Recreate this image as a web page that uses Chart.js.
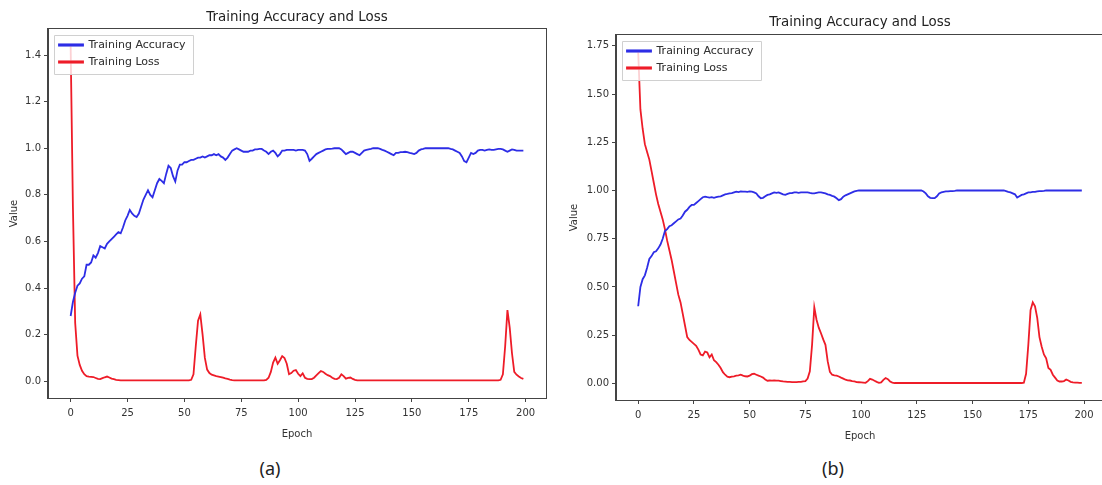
<!DOCTYPE html>
<html>
<head>
<meta charset="utf-8">
<script src="https://cdn.jsdelivr.net/npm/chart.js@4.4.1/dist/chart.umd.min.js"></script>
<style>
  html, body { margin: 0; padding: 0; background: #fff; overflow: hidden; width: 1102px; height: 485px; }
  canvas { position: absolute; top: 0; }
  #chart-a { left: 0; }
  #chart-b { left: 560px; }
  .caption { position: absolute; top: 456px; width: 60px; text-align: center; font-family: 'Noto Sans', sans-serif; font-size: 18px; color: #222; }
</style>
</head>
<body>
<canvas id="chart-a" width="594" height="440"></canvas>
<canvas id="chart-b" width="600" height="442"></canvas>
<div class="caption" style="left: 240px;">(a)</div>
<div class="caption" style="left: 803px;">(b)</div>
<script>
  // values (epochs 0..199)
  const accA = [
    0.28, 0.34, 0.38, 0.41, 0.42, 0.44, 0.45, 0.50, 0.50, 0.51,
    0.54, 0.53, 0.55, 0.58, 0.575, 0.57, 0.59, 0.60, 0.61, 0.62,
    0.63, 0.64, 0.635, 0.66, 0.69, 0.71, 0.735, 0.72, 0.71, 0.705,
    0.72, 0.75, 0.78, 0.80, 0.82, 0.80, 0.79, 0.82, 0.85, 0.868,
    0.86, 0.85, 0.89, 0.925, 0.915, 0.88, 0.857, 0.905, 0.93, 0.93,
    0.94, 0.94, 0.945, 0.95, 0.95, 0.955, 0.96, 0.96, 0.965, 0.96,
    0.965, 0.97, 0.97, 0.975, 0.97, 0.975, 0.965, 0.96, 0.95, 0.96,
    0.975, 0.99, 0.995, 1.0, 0.995, 0.99, 0.985, 0.985, 0.985, 0.99,
    0.99, 0.995, 0.995, 0.997, 0.997, 0.99, 0.985, 0.975, 0.985, 0.99,
    0.98, 0.965, 0.975, 0.99, 0.99, 0.993, 0.993, 0.993, 0.993, 0.99,
    0.993, 0.993, 0.993, 0.99, 0.975, 0.946, 0.955, 0.965, 0.975, 0.98,
    0.985, 0.99, 0.995, 0.997, 0.997, 0.998, 1.0, 1.0, 1.0, 0.995,
    0.985, 0.975, 0.98, 0.985, 0.985, 0.98, 0.975, 0.97, 0.98, 0.99,
    0.993, 0.995, 0.997, 1.0, 1.0, 1.0, 0.997, 0.993, 0.99, 0.985,
    0.98, 0.975, 0.97, 0.98, 0.98, 0.983, 0.983, 0.985, 0.983, 0.98,
    0.978, 0.975, 0.98, 0.99, 0.995, 0.997, 1.0, 1.0, 1.0, 1.0,
    1.0, 1.0, 1.0, 1.0, 1.0, 1.0, 1.0, 0.997, 0.995, 0.99,
    0.985, 0.98, 0.965, 0.945, 0.94, 0.96, 0.98, 0.975, 0.98, 0.99,
    0.993, 0.993, 0.99, 0.993, 0.995, 0.993, 0.993, 0.995, 0.997, 0.997,
    0.995, 0.99, 0.985, 0.99, 0.995, 0.993, 0.99, 0.99, 0.99, 0.99
  ];
  const lossA = [
    1.44, 0.75, 0.25, 0.11, 0.07, 0.045, 0.03, 0.022, 0.02, 0.019,
    0.018, 0.014, 0.01, 0.009, 0.013, 0.017, 0.02, 0.016, 0.011, 0.009,
    0.006, 0.005, 0.004, 0.004, 0.004, 0.004, 0.004, 0.004, 0.004, 0.004,
    0.004, 0.004, 0.004, 0.004, 0.004, 0.004, 0.004, 0.004, 0.004, 0.004,
    0.004, 0.004, 0.004, 0.004, 0.004, 0.004, 0.004, 0.004, 0.004, 0.004,
    0.004, 0.004, 0.004, 0.006, 0.03, 0.15, 0.26, 0.287, 0.2, 0.1,
    0.05, 0.035, 0.028, 0.025, 0.022, 0.02, 0.018, 0.015, 0.012, 0.01,
    0.007, 0.005, 0.004, 0.004, 0.004, 0.004, 0.004, 0.004, 0.004, 0.004,
    0.004, 0.004, 0.004, 0.004, 0.004, 0.004, 0.006, 0.015, 0.04, 0.08,
    0.101, 0.075, 0.09, 0.108, 0.1, 0.075, 0.03, 0.035, 0.045, 0.048,
    0.032, 0.022, 0.034, 0.015, 0.01, 0.009, 0.009, 0.015, 0.025, 0.035,
    0.044, 0.04, 0.032, 0.026, 0.022, 0.015, 0.01, 0.009, 0.015, 0.03,
    0.022, 0.011, 0.014, 0.016, 0.01, 0.006, 0.004, 0.004, 0.004, 0.004,
    0.004, 0.004, 0.004, 0.004, 0.004, 0.004, 0.004, 0.004, 0.004, 0.004,
    0.004, 0.004, 0.004, 0.004, 0.004, 0.004, 0.004, 0.004, 0.004, 0.004,
    0.004, 0.004, 0.004, 0.004, 0.004, 0.004, 0.004, 0.004, 0.004, 0.004,
    0.004, 0.004, 0.004, 0.004, 0.004, 0.004, 0.004, 0.004, 0.004, 0.004,
    0.004, 0.004, 0.004, 0.004, 0.004, 0.004, 0.004, 0.004, 0.004, 0.004,
    0.004, 0.004, 0.004, 0.004, 0.004, 0.004, 0.004, 0.004, 0.004, 0.006,
    0.03, 0.15, 0.305, 0.23, 0.12, 0.04, 0.028, 0.02, 0.014, 0.01
  ];
  const accB = [
    0.40, 0.50, 0.54, 0.56, 0.60, 0.645, 0.66, 0.68, 0.685, 0.70,
    0.72, 0.75, 0.79, 0.80, 0.815, 0.82, 0.83, 0.84, 0.85, 0.855,
    0.87, 0.89, 0.90, 0.915, 0.925, 0.925, 0.935, 0.945, 0.955, 0.965,
    0.968, 0.965, 0.963, 0.965, 0.962, 0.965, 0.968, 0.97, 0.975, 0.98,
    0.982, 0.985, 0.986, 0.99, 0.994, 0.992, 0.995, 0.994, 0.994, 0.993,
    0.995, 0.994, 0.99, 0.985, 0.97, 0.96, 0.962, 0.97, 0.977, 0.98,
    0.985, 0.99, 0.988, 0.99, 0.985, 0.98, 0.977, 0.982, 0.986, 0.986,
    0.99, 0.99, 0.988, 0.99, 0.99, 0.99, 0.99, 0.987, 0.985, 0.985,
    0.988, 0.99, 0.99, 0.988, 0.985, 0.98, 0.977, 0.972, 0.968, 0.96,
    0.95, 0.955, 0.968, 0.975, 0.98, 0.985, 0.99, 0.995, 0.998, 1.0,
    1.0, 1.0, 1.0, 1.0, 1.0, 1.0, 1.0, 1.0, 1.0, 1.0,
    1.0, 1.0, 1.0, 1.0, 1.0, 1.0, 1.0, 1.0, 1.0, 1.0,
    1.0, 1.0, 1.0, 1.0, 1.0, 1.0, 1.0, 1.0, 0.995, 0.985,
    0.97, 0.962, 0.96, 0.96, 0.97, 0.985, 0.99, 0.993, 0.995, 0.995,
    0.997, 0.997, 0.998, 1.0, 1.0, 1.0, 1.0, 1.0, 1.0, 1.0,
    1.0, 1.0, 1.0, 1.0, 1.0, 1.0, 1.0, 1.0, 1.0, 1.0,
    1.0, 1.0, 1.0, 1.0, 1.0, 0.997, 0.993, 0.99, 0.985, 0.98,
    0.963, 0.97, 0.977, 0.98, 0.985, 0.99, 0.99, 0.993, 0.993, 0.995,
    0.997, 0.997, 0.998, 1.0, 1.0, 1.0, 1.0, 1.0, 1.0, 1.0,
    1.0, 1.0, 1.0, 1.0, 1.0, 1.0, 1.0, 1.0, 1.0, 1.0
  ];
  const lossB = [
    1.72, 1.42, 1.32, 1.24, 1.2, 1.16, 1.1, 1.04, 0.98, 0.93,
    0.89, 0.85, 0.8, 0.74, 0.69, 0.64, 0.58, 0.52, 0.46, 0.42,
    0.36, 0.3, 0.24, 0.225, 0.215, 0.205, 0.195, 0.175, 0.15, 0.145,
    0.165, 0.16, 0.135, 0.15, 0.12, 0.11, 0.097, 0.08, 0.058, 0.045,
    0.035, 0.032, 0.035, 0.037, 0.04, 0.042, 0.045, 0.04, 0.037, 0.036,
    0.04, 0.048, 0.05, 0.045, 0.04, 0.036, 0.03, 0.02, 0.014, 0.015,
    0.014, 0.016, 0.014, 0.014, 0.012, 0.01, 0.009, 0.008, 0.008, 0.007,
    0.007, 0.007, 0.008, 0.008, 0.01, 0.012, 0.025, 0.063, 0.2, 0.394,
    0.33, 0.289, 0.26, 0.228, 0.2, 0.115, 0.06, 0.045, 0.042, 0.04,
    0.036, 0.03, 0.025, 0.019, 0.016, 0.015, 0.012, 0.01, 0.007, 0.006,
    0.005, 0.004, 0.003, 0.012, 0.024, 0.02, 0.014, 0.008, 0.003, 0.005,
    0.018, 0.028, 0.022, 0.01, 0.004, 0.002, 0.002, 0.002, 0.002, 0.002,
    0.002, 0.002, 0.002, 0.002, 0.002, 0.002, 0.002, 0.002, 0.002, 0.002,
    0.002, 0.002, 0.002, 0.002, 0.002, 0.002, 0.002, 0.002, 0.002, 0.002,
    0.002, 0.002, 0.002, 0.002, 0.002, 0.002, 0.002, 0.002, 0.002, 0.002,
    0.002, 0.002, 0.002, 0.002, 0.002, 0.002, 0.002, 0.002, 0.002, 0.002,
    0.002, 0.002, 0.002, 0.002, 0.002, 0.002, 0.002, 0.002, 0.002, 0.002,
    0.002, 0.002, 0.002, 0.004, 0.05, 0.2, 0.38, 0.42, 0.4, 0.34,
    0.24, 0.19, 0.15, 0.13, 0.08, 0.07, 0.045, 0.03, 0.015, 0.01,
    0.01, 0.012, 0.02, 0.015, 0.008, 0.005, 0.004, 0.004, 0.003, 0.003
  ];

  const xTicks = [0, 25, 50, 75, 100, 125, 150, 175, 200];
  const yTicksA = [0, 0.2, 0.4, 0.6, 0.8, 1.0, 1.2, 1.4];
  const yTicksB = [0, 0.25, 0.5, 0.75, 1.0, 1.25, 1.5, 1.75];

  const BLUE = 'rgb(45, 45, 230)';
  const RED = 'rgb(238, 28, 40)';
  const INK = '#333';
  const FONT = 'DejaVu Sans';

  // move the in-plot legend to the top-left corner and give it a frame
  const legendBox = {
    id: 'legendBox',
    afterUpdate(chart) {
      const lg = chart.legend;
      const a = chart.chartArea;
      if (!lg) return;
      const dx = a.left + 5 - lg.left;
      const dy = a.top + 4.5 - lg.top;
      lg.left += dx; lg.right += dx;
      lg.top += dy; lg.bottom += dy;
      lg.legendHitBoxes.forEach(h => { h.left += dx; h.top += dy; });
    },
    afterDatasetsDraw(chart) {
      const lg = chart.legend;
      const boxes = lg && lg.legendHitBoxes;
      if (!boxes || !boxes.length) return;
      let l = Infinity, t = Infinity, r = -Infinity, b = -Infinity;
      boxes.forEach(h => {
        l = Math.min(l, h.left);
        t = Math.min(t, h.top);
        r = Math.max(r, h.left + h.width);
        b = Math.max(b, h.top + h.height);
      });
      const ctx = chart.ctx;
      ctx.save();
      ctx.fillStyle = 'rgba(255,255,255,0.8)';
      ctx.strokeStyle = '#d0d0d0';
      ctx.lineWidth = 1;
      ctx.beginPath();
      ctx.rect(Math.round(l - 5) + 0.5, Math.round(t - 4) + 0.5, Math.round(r - l + 12), Math.round(b - t + 11));
      ctx.fill();
      ctx.stroke();
      ctx.restore();
      lg.draw();
    }
  };

  // full box round the plot area
  const axesFrame = {
    id: 'axesFrame',
    afterDraw(chart) {
      const a = chart.chartArea;
      const ctx = chart.ctx;
      ctx.save();
      ctx.strokeStyle = '#444';
      ctx.lineWidth = 1;
      ctx.strokeRect(Math.round(a.left) - 0.5, Math.round(a.top) - 0.5, Math.round(a.right - a.left) + 1, Math.round(a.bottom - a.top) + 1);
      ctx.restore();
    }
  };

  function makeChart(id, acc, loss, yMin, yMax, yTicks, digits, sideWidth, titlePad) {
    const epochs = acc.map((_, i) => i);
    const ctx = document.getElementById(id).getContext('2d');
    return new Chart(ctx, {
      type: 'line',
      data: {
        datasets: [
          {
            label: 'Training Accuracy',
            data: epochs.map((e, i) => ({ x: e, y: acc[i] })),
            borderColor: BLUE,
            backgroundColor: BLUE,
            borderWidth: 1.8,
            pointRadius: 0,
            tension: 0,
          },
          {
            label: 'Training Loss',
            data: epochs.map((e, i) => ({ x: e, y: loss[i] })),
            borderColor: RED,
            backgroundColor: RED,
            borderWidth: 1.8,
            pointRadius: 0,
            tension: 0,
          },
        ],
      },
      options: {
        responsive: false,
        animation: false,
        devicePixelRatio: 1,
        layout: { padding: 0 },
        scales: {
          x: {
            type: 'linear',
            min: -9.95,
            max: 208.95,
            afterBuildTicks: s => { s.ticks = xTicks.map(v => ({ value: v })); },
            afterFit: s => { s.height = 42; },
            ticks: { color: INK, padding: 5, maxRotation: 0, font: { family: FONT, size: 10 }, callback: v => String(v) },
            grid: { drawOnChartArea: false, tickLength: 4, color: '#444' },
            border: { color: '#444' },
            title: { display: true, text: 'Epoch', color: INK, padding: { top: 6, bottom: 0 }, font: { family: FONT, size: 10 } },
          },
          y: {
            min: yMin,
            max: yMax,
            afterBuildTicks: s => { s.ticks = yTicks.map(v => ({ value: v })); },
            afterFit: s => { s.width = sideWidth; },
            ticks: { color: INK, padding: 3, font: { family: FONT, size: 10 }, callback: v => Number(v).toFixed(digits) },
            grid: { drawOnChartArea: false, tickLength: 4, color: '#444' },
            border: { color: '#444' },
            title: { display: true, text: 'Value', color: INK, padding: { top: 8, bottom: 0 }, font: { family: FONT, size: 10 } },
          },
          // empty right-hand axis so the title centres over the plot area
          yRight: {
            position: 'right',
            display: true,
            afterFit: s => { s.width = sideWidth; },
            ticks: { display: false },
            grid: { display: false },
            border: { display: false },
          },
        },
        plugins: {
          title: {
            display: true,
            text: 'Training Accuracy and Loss',
            color: '#222',
            padding: titlePad,
            font: { family: FONT, size: 13.4, weight: 'normal', lineHeight: 1.2 },
          },
          legend: {
            position: 'chartArea',
            align: 'start',
            labels: {
              boxWidth: 24,
              boxHeight: 1,
              padding: 6,
              color: INK,
              font: { family: FONT, size: 11 },
            },
          },
          tooltip: { enabled: false },
        },
      },
      plugins: [legendBox, axesFrame],
    });
  }

  makeChart('chart-a', accA, lossA, -0.072, 1.512, yTicksA, 1, 48, { top: 9, bottom: 3.9 });
  makeChart('chart-b', accB, lossB, -0.086, 1.806, yTicksB, 2, 56, { top: 14, bottom: 4.9 });
</script>
</body>
</html>
